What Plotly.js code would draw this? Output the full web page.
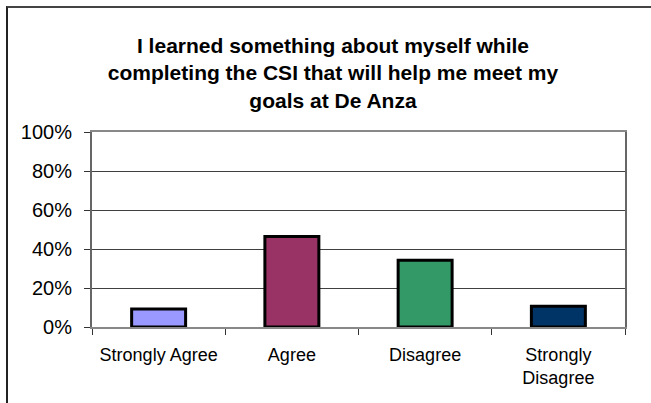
<!DOCTYPE html>
<html>
<head>
<meta charset="utf-8">
<script src="https://cdn.plot.ly/plotly-3.0.1.min.js"></script>
<style>
  html, body { margin: 0; padding: 0; background: #fff; }
  #wrap { position: relative; width: 651px; height: 403px; }
  #chart { position: absolute; left: 0; top: 0; width: 651px; height: 403px; }
  #frame { position: absolute; left: 6px; top: 6px; right: -4px; bottom: -4px;
           border-left: 2px solid #222; border-top: 2px solid #444; pointer-events: none; }
</style>
</head>
<body>
<div id="wrap">
  <div id="chart"></div>
  <div id="frame"></div>
</div>
<script>
// Data
const categories = ["Strongly Agree", "Agree", "Disagree", "Strongly<br>Disagree"];
const values = [0.092, 0.464, 0.342, 0.106];
const titleText = "I learned something about myself while<br>completing the CSI that will help me meet my<br>goals at De Anza";

const barColors = ["#9999FF", "#993366", "#339966", "#003366"];
const FONT = "Liberation Sans, Arial, sans-serif";

const trace = {
  type: "bar",
  x: categories,
  y: values,
  marker: { color: barColors, line: { color: "#000", width: 3 } },
  hoverinfo: "skip"
};

const layout = {
  width: 651,
  height: 403,
  paper_bgcolor: "#fff",
  plot_bgcolor: "#fff",
  margin: { l: 92, r: 26, t: 132, b: 76 },
  showlegend: false,
  bargap: 0.595,
  font: { family: FONT, color: "#000" },
  title: {
    text: titleText,
    font: { family: FONT, size: 21, color: "#000", weight: "bold" },
    x: 333 / 651, xanchor: "center",
    xref: "container", yref: "container",
    y: 1 - 53 / 403, yanchor: "top",
    pad: { t: 0, b: 0 }
  },
  xaxis: {
    type: "category",
    tickson: "boundaries",
    ticks: "outside", ticklen: 6, tickcolor: "#333", tickwidth: 1,
    showline: true, linecolor: "#888", linewidth: 2, mirror: true,
    showgrid: false,
    tickfont: { family: FONT, size: 18, color: "#000" },
    ticklabelstandoff: 10,
    fixedrange: true
  },
  yaxis: {
    range: [0, 1],
    dtick: 0.2,
    tickformat: ".0%",
    ticks: "outside", ticklen: 6, tickcolor: "#333", tickwidth: 1,
    showline: true, linecolor: "#666", linewidth: 2, mirror: true,
    showgrid: true, gridcolor: "#404040", gridwidth: 1,
    zeroline: false,
    tickfont: { family: FONT, size: 20, color: "#000" },
    ticklabelstandoff: 8,
    fixedrange: true
  }
};

Plotly.newPlot("chart", [trace], layout, { staticPlot: true, displayModeBar: false });
</script>
</body>
</html>
